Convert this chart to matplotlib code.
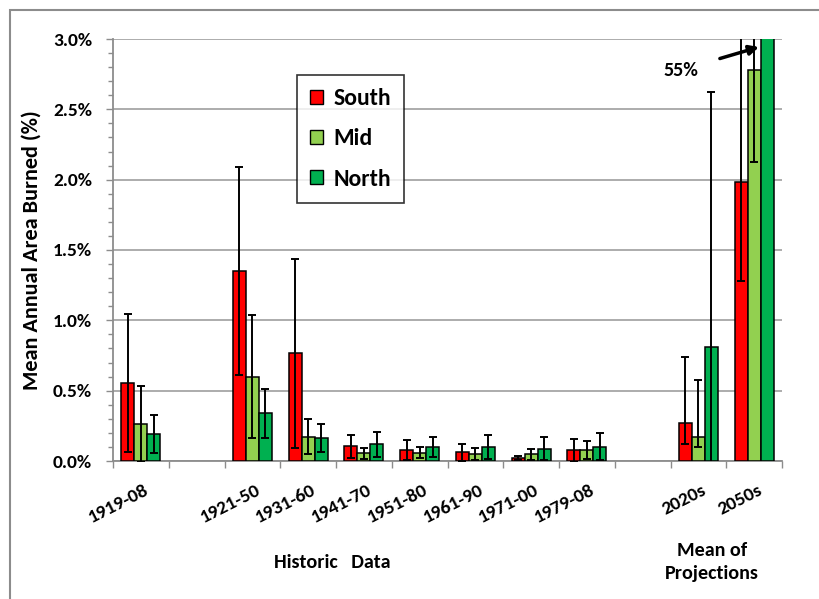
import numpy as np
import matplotlib
matplotlib.use("Agg")
import matplotlib.pyplot as plt
from matplotlib.patches import Rectangle, Patch
from matplotlib.transforms import ScaledTranslation

plt.rcParams['font.family'] = ['Carlito', 'DejaVu Sans']
plt.rcParams['font.weight'] = 'bold'

nan = np.nan
categories = ['1919-08', '', '1921-50', '1931-60', '1941-70', '1951-80',
              '1961-90', '1971-00', '1979-08', '', '2020s', '2050s']

south = [0.554, nan, 1.35, 0.765, 0.107, 0.076, 0.062, 0.021, 0.076, nan, 0.268, 1.98]
south_lo = [0.49, nan, 0.74, 0.67, 0.085, 0.07, 0.06, 0.015, 0.08, nan, 0.145, 0.70]
south_hi = [0.49, nan, 0.74, 0.67, 0.08, 0.07, 0.06, 0.015, 0.08, nan, 0.47, 2.0]

mid = [0.265, nan, 0.60, 0.173, 0.054, 0.059, 0.05, 0.047, 0.076, nan, 0.168, 2.78]
mid_lo = [0.27, nan, 0.44, 0.125, 0.04, 0.04, 0.045, 0.038, 0.064, nan, 0.07, 0.655]
mid_hi = [0.27, nan, 0.44, 0.125, 0.04, 0.04, 0.045, 0.038, 0.064, nan, 0.405, 0.655]

north = [0.19, nan, 0.34, 0.166, 0.118, 0.10, 0.10, 0.088, 0.10, nan, 0.81, 55.0]
north_lo = [0.135, nan, 0.175, 0.10, 0.09, 0.07, 0.088, 0.082, 0.096, nan, 1.81, 20.0]
north_hi = [0.135, nan, 0.175, 0.10, 0.09, 0.07, 0.088, 0.082, 0.096, nan, 1.81, 20.0]

series = [('South', south, south_lo, south_hi, '#FF0000'),
          ('Mid', mid, mid_lo, mid_hi, '#92D050'),
          ('North', north, north_lo, north_hi, '#00B050')]

fig = plt.figure(figsize=(8.19, 5.99), dpi=100)
ax = fig.add_axes([113/819, 1-461/599, (782-113)/819, (461-39)/599])

x = np.arange(len(categories)) + 0.5
w = 0.233
for i, (name, vals, lo, hi, col) in enumerate(series):
    xs = x + (i - 1) * w
    ax.bar(xs, vals, width=w, color=col, edgecolor='black', linewidth=1.1,
           zorder=3, label=name)
    ax.errorbar(xs, vals, yerr=[lo, hi], fmt='none', ecolor='black',
                elinewidth=1.4, capsize=3, capthick=1.4, zorder=4)

ax.set_xlim(0, len(categories))
ax.set_ylim(0, 3.0)
ax.set_yticks(np.arange(0, 3.01, 0.5))
ax.set_yticks(np.arange(0, 3.01, 0.1), minor=True)
ax.set_yticklabels([f'{v:.1f}%' for v in np.arange(0, 3.01, 0.5)],
                   fontsize=14, fontweight='bold')
ax.set_xticks(np.arange(0, len(categories) + 1))
ax.set_xticklabels([])
ax.tick_params(axis='y', which='major', direction='out', length=5, width=1,
               color='#8C8C8C', pad=10)
ax.tick_params(axis='y', which='minor', direction='out', length=3.5, width=1,
               color='#8C8C8C')
ax.tick_params(axis='x', which='major', direction='out', length=5, width=1,
               color='#8C8C8C')
ax.grid(axis='y', which='major', color='#A6A6A6', linewidth=1.3, zorder=0)
ax.set_axisbelow(True)
for s in ['top', 'right']:
    ax.spines[s].set_visible(False)
for s in ['left', 'bottom']:
    ax.spines[s].set_color('#8C8C8C')
    ax.spines[s].set_linewidth(1.3)

ax.set_ylabel('Mean Annual Area Burned (%)', fontsize=16, fontweight='bold',
              labelpad=8)

offset = ScaledTranslation(3/100, -21/100, fig.dpi_scale_trans)
for xi, lab in zip(x, categories):
    if lab:
        ax.text(xi, 0, lab, transform=ax.get_xaxis_transform() + offset,
                rotation=27, ha='right', va='top', rotation_mode='anchor',
                fontsize=14, fontweight='bold')

fig.text(332/819, 1-562/599, 'Historic   Data', ha='center', va='center',
         fontsize=14.5, fontweight='bold')
fig.text(712/819, 1-562/599, 'Mean of\nProjections', ha='center', va='center',
         fontsize=14.5, fontweight='bold', linespacing=1.45)

ax.annotate('55%', xy=(759/819, 1-47/599), xycoords='figure fraction',
            xytext=(681/819, 1-70/599), textcoords='figure fraction',
            ha='center', va='center', fontsize=14.5, fontweight='bold',
            arrowprops=dict(arrowstyle='-|>', color='black', lw=2.5,
                            mutation_scale=14, shrinkA=14, shrinkB=0))

handles = [Patch(facecolor=c, edgecolor='black', linewidth=1.0, label=n)
           for n, _, _, _, c in series]
leg = fig.legend(handles=handles, loc='upper left',
                 bbox_to_anchor=(297/819, 1-75/599), frameon=True,
                 fancybox=False, edgecolor='black',
                 prop={'family': 'Carlito', 'weight': 'bold', 'size': 17},
                 handlelength=0.55, handleheight=0.55, handletextpad=0.45,
                 labelspacing=0.82, borderpad=0.55, borderaxespad=0)
leg.get_frame().set_linewidth(1.2)

fig.patches.append(Rectangle((10/819, -0.05), 1.0, 1 - 10/599 + 0.05,
                             transform=fig.transFigure, fill=False,
                             edgecolor='#8C8C8C', linewidth=1.5))

fig.savefig('out.png', dpi=100)
